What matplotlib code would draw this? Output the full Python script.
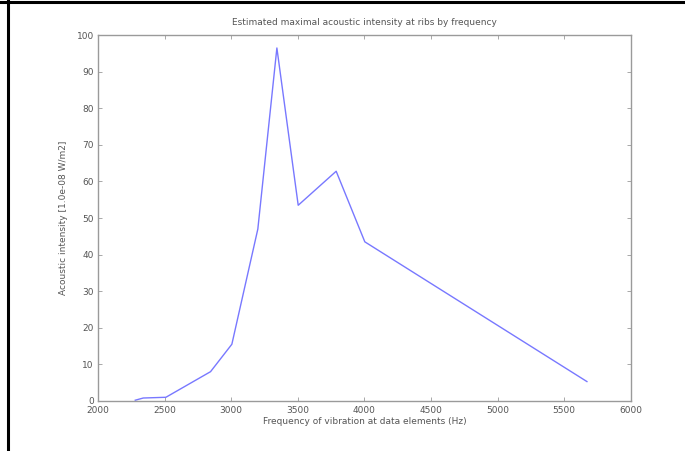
import matplotlib
matplotlib.use("Agg")
import matplotlib.pyplot as plt
from matplotlib.lines import Line2D

# values
freq_hz = [2280, 2340, 2510, 2845, 3005, 3200, 3343, 3503, 3788, 4003, 5670]
intensity = [0.2, 0.8, 1.0, 8.0, 15.5, 47.0, 96.5, 53.5, 62.8, 43.5, 5.3]

x_ticks = [2000, 2500, 3000, 3500, 4000, 4500, 5000, 5500, 6000]
y_ticks = list(range(0, 101, 10))

TEXT_COL = "#555555"
AXIS_COL = "#9a9a9a"


def main():
    fig = plt.figure(figsize=(6.85, 4.51), dpi=100)
    ax = fig.add_axes([0.143, 0.111, 0.778, 0.811])

    ax.plot(freq_hz, intensity, color="#7878ff", linewidth=1.0)

    ax.set_xlim(2000, 6000)
    ax.set_ylim(0, 100)
    ax.set_xticks(x_ticks)
    ax.set_yticks(y_ticks)
    ax.tick_params(direction="in", length=3, width=0.6, color=AXIS_COL,
                   labelsize=6.5, labelcolor=TEXT_COL, top=True, right=True)
    ax.tick_params(axis="x", pad=4)
    ax.tick_params(axis="y", pad=3)
    for sp in ax.spines.values():
        sp.set_color(AXIS_COL)
        sp.set_linewidth(1.0)

    ax.set_xlabel("Frequency of vibration at data elements (Hz)", fontsize=6.5,
                  color=TEXT_COL, labelpad=1)
    ax.set_ylabel("Acoustic intensity [1.0e-08 W/m2]", fontsize=6.5,
                  color=TEXT_COL, labelpad=6)
    ax.set_title("Estimated maximal acoustic intensity at ribs by frequency",
                 fontsize=6.5, color=TEXT_COL, pad=7)

    # black frame on top and left edge of the screenshot
    fig.add_artist(Line2D([0.0, 1.0], [0.995, 0.995], color="black", linewidth=2.2,
                          transform=fig.transFigure))
    fig.add_artist(Line2D([0.011, 0.011], [0.0, 1.0], color="black", linewidth=2.2,
                          transform=fig.transFigure))

    fig.savefig("out.png", dpi=100)


if __name__ == "__main__":
    main()
